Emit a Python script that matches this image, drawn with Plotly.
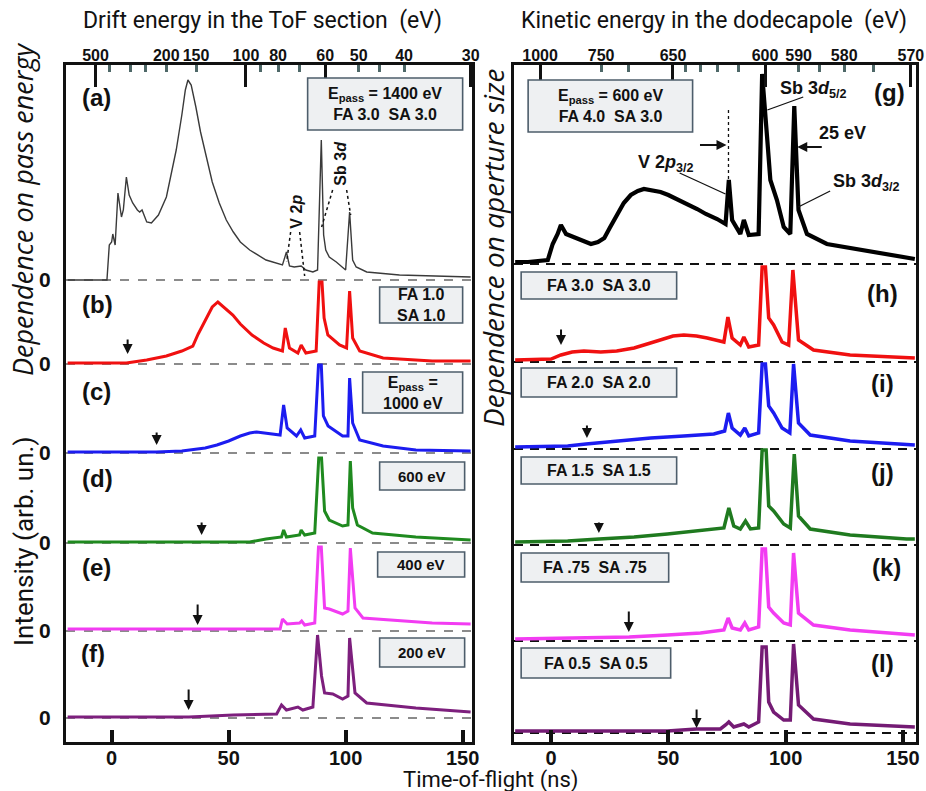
import plotly.graph_objects as go

# ---------------- data (time-of-flight in ns, intensity in arb. units above each zero line) -------------
# left column: dependence on pass energy
a_t = [-18.8, -2, -1, 0, 0.5, 1.5, 2.7, 4.2, 5.0, 6.3, 7.5, 9, 11, 12, 13, 15, 17, 20, 23.4, 25.5, 27.6,
       30, 31.5, 32.6, 34, 36, 38, 40.5, 43, 46, 49, 52, 55, 59, 66, 73, 74.7, 76, 78, 81, 83, 86, 88,
       89.6, 90.6, 91.5, 93, 96, 100, 101.7, 103, 104.5, 109, 123, 140, 153.4]
a_i = [0, 0, 35, 38, 46, 35, 87, 63, 70, 103, 85, 77, 70, 68, 70, 58, 57, 65, 83, 105, 130,
       165, 190, 200, 195, 173, 148, 123, 98, 77, 60, 48, 38, 30, 20, 15, 28, 14, 13, 14, 10, 8, 10,
       140, 45, 30, 23, 18, 10, 68, 20, 13, 8, 5, 4, 3]
b_t = [-18.8, 6.3, 15, 23.4, 30, 34.7, 37, 40.5, 43, 45.4, 48, 51.8, 55, 60, 65, 69, 73, 74.2, 76, 79.6,
       81, 83, 87.4, 88.7, 89.9, 90.8, 92.4, 97.4, 100.4, 101.7, 103, 106, 116, 137, 153.4]
b_i = [1, 1, 4, 8, 13, 18, 30, 46, 57, 62, 57, 49, 40, 29, 21, 16, 13, 36, 16, 11,
       19, 11, 13, 82, 82, 46, 29, 19, 16, 73, 26, 13, 6, 3, 3]
c_t = [-18.8, 19, 30, 40, 45, 50, 55, 59, 62, 65, 67.5, 72, 73.5, 75, 79, 80.8, 82.5, 86.8, 88.4, 89.6,
       90.5, 92.5, 98.7, 101, 101.7, 103, 106, 116, 130, 153.4]
c_i = [1, 1, 2, 5, 8, 12, 17, 20, 21, 20, 19, 18, 48, 25, 17, 23, 15, 17, 88, 88,
       37, 27, 17, 17, 75, 30, 13, 7, 3, 2]
d_t = [-18.8, 38.4, 59, 66, 72.6, 73.5, 74.7, 80.3, 81, 82.5, 86.8, 88.5, 89.7, 91, 93, 98.7, 101, 102,
       103, 105, 111.5, 130, 153.4]
d_i = [1, 1, 1, 4, 6, 13, 6, 8, 13, 8, 10, 85, 85, 32, 23, 17, 18, 82, 35, 18, 10, 6, 3]
e_t = [-18.8, 36.8, 72, 73, 75, 80.3, 81.2, 82.5, 86.8, 88.4, 89.6, 91, 93, 98.7, 101, 102, 104, 107.4,
       123, 137, 153.4]
e_i = [2, 2, 2, 12, 7, 8, 10, 6, 8, 84, 84, 23, 22, 17, 20, 83, 23, 13, 10, 8, 7]
f_t = [-18.8, 33, 52, 70.5, 72.6, 74.7, 79.6, 81.7, 86, 88, 89.7, 91, 94.5, 98.7, 101, 101.7, 104, 109,
       130, 153.4]
f_i = [1, 1, 3, 4, 13, 8, 11, 8, 11, 83, 42, 25, 24, 19, 22, 80, 25, 15, 10, 6]

# right column: dependence on aperture size
g_t = [-15.3, -9.8, -1.4, 0.7, 2.8, 4.2, 6.4, 11.3, 17, 20, 22.7, 25, 28.3, 31, 34, 37, 39.6, 43, 46.7,
       50, 53.8, 58, 62.3, 66, 70.8, 74.4, 75.8, 77.2, 80.7, 82.2, 84.3, 88.5, 90, 92.1, 93.5, 96.3, 99.2,
       102, 103.7, 105.5, 109.1, 117.6, 131.7, 145.9, 155.1]
g_i = [2, 2, 4, 20, 30, 39, 30, 25, 20, 22, 26, 36, 50, 61, 69, 73, 75, 74, 72,
       69, 65, 60, 55, 50, 45, 40, 84, 44, 30, 44, 29, 30, 190, 127, 84, 64, 37,
       30, 158, 54, 30, 20, 14, 9, 5]
h_t = [-15.3, 0, 4.2, 9, 14, 21.2, 28, 35.4, 41, 46.7, 52, 56.6, 62, 66.6, 73.7, 75.4, 77.2, 80.7, 82.2,
       84.3, 88.5, 90, 91.4, 92.8, 94.9, 98.5, 101.3, 103.1, 105.5, 111.9, 127.5, 155.1]
h_i = [2, 3, 7, 10, 11, 10, 11, 14, 18, 22, 26, 27, 26, 24, 20, 45, 24, 17, 25,
       15, 17, 95, 95, 44, 37, 20, 17, 92, 22, 12, 7, 4]
i_t = [-15.3, 7.1, 14.9, 28.3, 42.5, 56.6, 69.4, 74, 75.6, 77.2, 80.7, 82.6, 84.3, 88.5, 90, 91.4, 92.8,
       94.9, 98.5, 101.8, 103.4, 105.5, 110.5, 127.5, 155.1]
i_i = [2, 3, 5, 8, 11, 13, 15, 18, 36, 21, 14, 21, 13, 16, 85, 85, 43, 36, 21, 16, 85, 26, 14, 8, 4]
j_t = [-15.3, 7.1, 20.5, 35.4, 49.6, 63.7, 73.7, 75.8, 77.9, 80.7, 82.9, 85, 88.5, 90, 91.7, 92.8, 94.9,
       99.2, 102, 103.7, 105.5, 110.5, 127.5, 151.6, 155.1]
j_i = [3, 4, 6, 8, 11, 14, 17, 37, 19, 16, 24, 16, 17, 95, 95, 39, 34, 21, 17, 91, 29, 16, 10, 6, 6]
k_t = [-15.3, 21.2, 33.3, 49.6, 63.7, 73.7, 75.5, 77.2, 80.7, 82.6, 84.3, 88.5, 90, 91.4, 92.8, 94.9,
       99.2, 102, 103.4, 105.5, 111.9, 127.5, 155.1]
k_i = [2, 3, 4, 6, 8, 11, 23, 13, 11, 18, 11, 14, 92, 92, 34, 28, 18, 16, 88, 28, 16, 11, 6]
l_t = [-15.3, 21.2, 49.6, 62, 72.2, 74.4, 75.8, 77.9, 82.2, 84.3, 88.5, 90, 91.7, 92.8, 94.9, 99.2, 102,
       103.4, 105.5, 111.9, 127.5, 155.1]
l_i = [2, 2, 2, 4, 4, 8, 11, 6, 9, 6, 11, 86, 86, 31, 21, 13, 13, 89, 28, 14, 9, 6]

# top axis labels (energies)
drift_labels = [500, 200, 150, 100, 80, 60, 50, 40, 30]
drift_major = [500, 100, 60, 30]
drift_minor = [400, 300, 250, 200, 150, 90, 80, 70, 50, 45, 40]
kin_labels = [1000, 750, 650, 600, 590, 580, 570]
kin_major = [1000, 650, 600, 570]
kin_minor = [750, 700, 640, 630, 620, 610, 590, 585, 580, 575]
bottom_ticks = [0, 50, 100, 150]

# ---------------- geometry -------------
W, H = 926, 791
ML, MR, MT, MB = 66, 10, 65, 49
PW, PH = W - ML - MR, H - MT - MB
LX = [-19.5, 154.0]
RX = [-15.8, 155.6]
A_TOF, B_TOF, DODECA_SHIFT = 1163.0, -58.9, 540.0
NB = "\u00a0"


def drift_to_tof(e):
    return A_TOF / e ** 0.5 + B_TOF


def kin_to_tof(e):
    return drift_to_tof(e - DODECA_SHIFT)


def Y(py):
    return (MT + PH) - py


def Lx(px):
    return (px - 112) / 2.34


def Rx(px):
    return (px - 550) / 2.353


def PX(px):
    return (px - ML) / PW


def PY(py):
    return (MT + PH - py) / PH


left_base = [Y(280), Y(364), Y(453), Y(543), Y(631), Y(718)]
right_base = [Y(264), Y(362), Y(449), Y(545), Y(641), Y(733)]

fig = go.Figure()

left_series = [(a_t, a_i, "#3a3a3a", 1.4), (b_t, b_i, "#f01010", 3.0), (c_t, c_i, "#1c1cf0", 3.0),
               (d_t, d_i, "#1f8a1f", 3.0), (e_t, e_i, "#f23cf2", 3.0), (f_t, f_i, "#7d1f7d", 3.0)]
right_series = [(g_t, g_i, "#000000", 4.2), (h_t, h_i, "#f01010", 3.5), (i_t, i_i, "#1c1cf0", 3.5),
                (j_t, j_i, "#1f7a1f", 3.5), (k_t, k_i, "#f23cf2", 3.5), (l_t, l_i, "#741b74", 3.5)]

for (t, v, col, w), base in zip(left_series, left_base):
    fig.add_trace(go.Scatter(x=t, y=[base + q for q in v], mode="lines",
                             line=dict(color=col, width=w), xaxis="x", yaxis="y",
                             showlegend=False, hoverinfo="skip"))
for (t, v, col, w), base in zip(right_series, right_base):
    fig.add_trace(go.Scatter(x=t, y=[base + q for q in v], mode="lines",
                             line=dict(color=col, width=w), xaxis="x2", yaxis="y2",
                             showlegend=False, hoverinfo="skip"))

shapes = []
for base in left_base:
    shapes.append(dict(type="line", xref="x", yref="y", x0=LX[0], x1=LX[1], y0=base, y1=base,
                       line=dict(color="#666666", width=1.3, dash="dash"), layer="below"))
for base in right_base:
    shapes.append(dict(type="line", xref="x2", yref="y2", x0=RX[0], x1=RX[1], y0=base, y1=base,
                       line=dict(color="#111111", width=2, dash="9px,7px"), layer="below"))

annotations = []
BOLD = dict(family="Liberation Sans, Arial", color="#111111", weight="bold")


def ann(**kw):
    kw.setdefault("xanchor", "center")
    kw.setdefault("yanchor", "middle")
    kw.setdefault("showarrow", False)
    annotations.append(kw)


def box(xr, yr, x0, x1, py0, py1, text, size=16):
    shapes.append(dict(type="rect", xref=xr, yref=yr, x0=x0, x1=x1, y0=Y(py1), y1=Y(py0),
                       fillcolor="#eef0f2", line=dict(color="#4d5d6b", width=1.6)))
    ann(xref=xr, yref=yr, x=(x0 + x1) / 2, y=(Y(py0) + Y(py1)) / 2, text=text.replace("  ", NB * 2),
        font=dict(size=size, **BOLD), align="center")


# left boxes
box("x", "y", Lx(308), Lx(463), 78, 130, "E<sub>pass</sub> = 1400 eV<br>FA 3.0  SA 3.0")
box("x", "y", Lx(380), Lx(463), 287, 323, "FA 1.0<br>SA 1.0")
box("x", "y", Lx(363), Lx(463), 372, 413, "E<sub>pass</sub> =<br>1000 eV")
box("x", "y", Lx(380), Lx(465), 462, 490, "600 eV", 15)
box("x", "y", Lx(378), Lx(465), 552, 577, "400 eV", 15)
box("x", "y", Lx(380), Lx(465), 638, 667, "200 eV", 15)
# right boxes
box("x2", "y2", Rx(527), Rx(692), 80, 132, "E<sub>pass</sub> = 600 eV<br>FA 4.0  SA 3.0")
box("x2", "y2", Rx(520), Rx(676), 272, 299, "FA 3.0  SA 3.0")
box("x2", "y2", Rx(520), Rx(676), 368, 397, "FA 2.0  SA 2.0")
box("x2", "y2", Rx(520), Rx(676), 457, 484, "FA 1.5  SA 1.5")
box("x2", "y2", Rx(520), Rx(668), 553, 582, "FA .75  SA .75")
box("x2", "y2", Rx(520), Rx(670), 648, 678, "FA 0.5  SA 0.5")

# panel letters
for lab, px, py in [("(a)", 97, 97), ("(b)", 98, 304), ("(c)", 97, 391), ("(d)", 98, 478),
                    ("(e)", 97, 567), ("(f)", 93, 653)]:
    ann(xref="x", yref="y", x=Lx(px), y=Y(py), text=lab, font=dict(size=24, **BOLD))
for lab, px, py in [("(g)", 890, 92), ("(h)", 883, 293), ("(i)", 883, 383), ("(j)", 883, 472),
                    ("(k)", 887, 567), ("(l)", 883, 663)]:
    ann(xref="x2", yref="y2", x=Rx(px), y=Y(py), text=lab, font=dict(size=24, **BOLD))

# onset arrows
for px, py, ln in [(128, 354, 16), (157, 445, 14), (202, 535, 14), (198, 625, 22), (189, 710, 22)]:
    annotations.append(dict(xref="x", yref="y", x=Lx(px), y=Y(py), ax=0, ay=-ln, text="",
                            showarrow=True, arrowhead=2, arrowsize=1, arrowwidth=2, arrowcolor="#111"))
for px, py, ln in [(560, 345, 17), (586, 438, 14), (598, 533, 12), (628, 632, 22), (696, 728, 20)]:
    annotations.append(dict(xref="x2", yref="y2", x=Rx(px), y=Y(py), ax=0, ay=-ln, text="",
                            showarrow=True, arrowhead=2, arrowsize=1, arrowwidth=2, arrowcolor="#111"))

# peak labels, left
ann(xref="x", yref="y", x=Lx(296), y=Y(212), text="V 2<i>p</i>", textangle=-90, font=dict(size=16, **BOLD))
ann(xref="x", yref="y", x=Lx(340), y=Y(163), text="Sb 3<i>d</i>", textangle=-90, font=dict(size=16, **BOLD))
for x0, y0, x1, y1 in [(291, 232, 287, 262), (300, 232, 305, 276), (333, 190, 322, 227), (347, 190, 351, 215)]:
    shapes.append(dict(type="line", xref="x", yref="y", x0=Lx(x0), y0=Y(y0), x1=Lx(x1), y1=Y(y1),
                       line=dict(color="#111", width=1.5, dash="dot")))

# peak labels, right
ann(xref="x2", yref="y2", x=Rx(665), y=Y(163), text="V 2<i>p</i><sub>3/2</sub>", font=dict(size=18, **BOLD))
ann(xref="x2", yref="y2", x=Rx(813), y=Y(89), text="Sb 3<i>d</i><sub>5/2</sub>", font=dict(size=18, **BOLD))
ann(xref="x2", yref="y2", x=Rx(842), y=Y(133), text="25 eV", font=dict(size=18, **BOLD))
ann(xref="x2", yref="y2", x=Rx(866), y=Y(182), text="Sb 3<i>d</i><sub>3/2</sub>", font=dict(size=18, **BOLD))
for x0, y0, x1, y1 in [(679, 173, 725, 194), (803, 97, 767, 110), (830, 191, 798, 207)]:
    shapes.append(dict(type="line", xref="x2", yref="y2", x0=Rx(x0), y0=Y(y0), x1=Rx(x1), y1=Y(y1),
                       line=dict(color="#111", width=1.3)))
shapes.append(dict(type="line", xref="x2", yref="y2", x0=Rx(728), y0=Y(110), x1=Rx(728), y1=Y(182),
                   line=dict(color="#111", width=1.3, dash="dot")))
annotations.append(dict(xref="x2", yref="y2", x=Rx(726), y=Y(145), ax=-28, ay=0, text="",
                        showarrow=True, arrowhead=2, arrowsize=1, arrowwidth=2, arrowcolor="#111"))
annotations.append(dict(xref="x2", yref="y2", x=Rx(797), y=Y(147), ax=26, ay=0, text="",
                        showarrow=True, arrowhead=2, arrowsize=1, arrowwidth=2, arrowcolor="#111"))

# titles
TITLE = dict(family="Roboto, Open Sans", color="#111111")
ann(xref="paper", yref="paper", x=PX(262), y=PY(20), text="Drift energy in the ToF section" + NB * 2 + "(eV)",
    font=dict(size=23, **TITLE))
ann(xref="paper", yref="paper", x=PX(714), y=PY(20), text="Kinetic energy in the dodecapole" + NB * 2 + "(eV)",
    font=dict(size=23, **TITLE))
ann(xref="paper", yref="paper", x=PX(490), y=PY(780), text="Time-of-flight (ns)", font=dict(size=22, **TITLE))
ann(xref="paper", yref="paper", x=PX(24), y=PY(542), text="Intensity (arb. un.)", textangle=-90,
    font=dict(size=26, **TITLE))
ann(xref="paper", yref="paper", x=PX(22), y=PY(210), text="<i>Dependence on pass energy</i>", textangle=-90,
    font=dict(size=27, family="Open Sans", color="#111"))
ann(xref="paper", yref="paper", x=PX(493), y=PY(248), text="<i>Dependence on aperture size</i>", textangle=-90,
    font=dict(size=28, family="Open Sans", color="#111"))

dom_l = [0, (472 - ML) / PW]
dom_r = [(514 - ML) / PW, 1]
TICKF = dict(size=20, family="Liberation Sans, Arial", color="#111", weight="bold")
TOPF = dict(size=16, family="Liberation Sans, Arial", color="#111", weight="bold")

fig.update_layout(
    width=W, height=H, margin=dict(l=ML, r=MR, t=MT, b=MB, autoexpand=False),
    paper_bgcolor="white", plot_bgcolor="white",
    shapes=shapes, annotations=annotations,
    xaxis=dict(domain=dom_l, range=LX, anchor="y", showgrid=False, zeroline=False, automargin=False,
               tickvals=bottom_ticks, ticks="inside", ticklen=12, tickwidth=4, tickcolor="#111",
               tickfont=TICKF, ticklabelstandoff=-4,
               showline=True, linewidth=3, linecolor="#111", mirror=True),
    xaxis2=dict(domain=dom_r, range=RX, anchor="y2", showgrid=False, zeroline=False, automargin=False,
                tickvals=bottom_ticks, ticks="inside", ticklen=12, tickwidth=4, tickcolor="#111",
                tickfont=TICKF, ticklabelstandoff=-4,
                showline=True, linewidth=3, linecolor="#111", mirror=True),
    xaxis3=dict(overlaying="x", anchor="y", side="top", range=LX, showgrid=False, zeroline=False,
                automargin=False,
                tickvals=[drift_to_tof(e) for e in drift_labels + drift_minor],
                ticktext=[str(e) for e in drift_labels] + [""] * len(drift_minor),
                ticks="inside", ticklen=7, tickwidth=2.5, tickcolor="#4e6868", tickfont=TOPF),
    xaxis4=dict(overlaying="x", anchor="y", side="top", range=LX, showgrid=False, zeroline=False,
                automargin=False,
                tickvals=[drift_to_tof(e) for e in drift_major], showticklabels=False,
                ticks="inside", ticklen=22, tickwidth=3, tickcolor="#111"),
    xaxis5=dict(overlaying="x2", anchor="y2", side="top", range=RX, showgrid=False, zeroline=False,
                automargin=False,
                tickvals=[kin_to_tof(e) for e in kin_labels + kin_minor],
                ticktext=[str(e) for e in kin_labels] + [""] * len(kin_minor),
                ticks="inside", ticklen=7, tickwidth=2.5, tickcolor="#4e6868", tickfont=TOPF),
    xaxis6=dict(overlaying="x2", anchor="y2", side="top", range=RX, showgrid=False, zeroline=False,
                automargin=False,
                tickvals=[kin_to_tof(e) for e in kin_major], showticklabels=False,
                ticks="inside", ticklen=22, tickwidth=3, tickcolor="#111"),
    yaxis=dict(domain=[0, 1], range=[0, PH], anchor="x", showgrid=False, zeroline=False, automargin=False,
               tickvals=left_base, ticktext=["0"] * 6, ticks="", ticklabelstandoff=8,
               tickfont=dict(size=21, family="Liberation Sans, Arial", color="#111", weight="bold"),
               showline=True, linewidth=3, linecolor="#111", mirror=True),
    yaxis2=dict(domain=[0, 1], range=[0, PH], anchor="x2", showgrid=False, zeroline=False, automargin=False,
                showticklabels=False, ticks="",
                showline=True, linewidth=3, linecolor="#111", mirror=True),
)

# invisible anchors so the overlay axes render
for ax, ya, rng in [("x3", "y", LX), ("x4", "y", LX), ("x5", "y2", RX), ("x6", "y2", RX)]:
    fig.add_trace(go.Scatter(x=[rng[0]], y=[-100], xaxis=ax, yaxis=ya, mode="markers",
                             marker=dict(opacity=0), showlegend=False, hoverinfo="skip"))

fig.write_html("out.html", config={"displayModeBar": False},
               post_script="document.body.style.margin='0px';document.body.style.overflow='hidden';")
